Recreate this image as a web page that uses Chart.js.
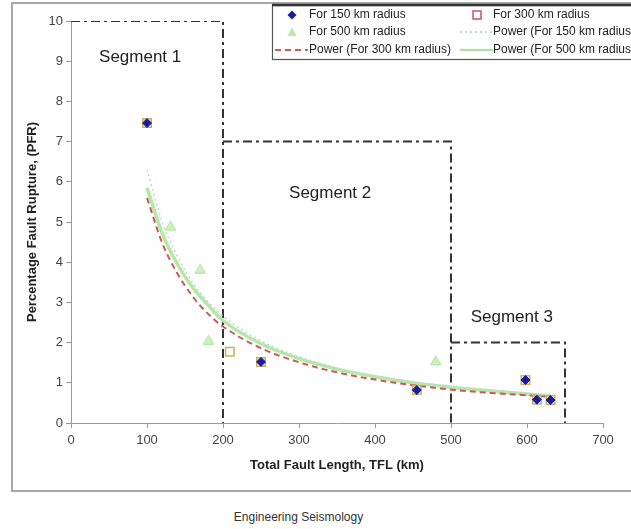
<!DOCTYPE html>
<html>
<head>
<meta charset="utf-8">
<script src="https://cdn.jsdelivr.net/npm/chart.js@4.4.1/dist/chart.umd.min.js"></script>
<style>
  body { margin:0; background:#fff; width:631px; height:529px; overflow:hidden; position:relative; font-family: Arial, "Liberation Sans", sans-serif; }
  #frame { position:absolute; left:11px; top:2px; width:640px; height:486px; border:2px solid #a8a8a8; border-right:none; }
  #c { position:absolute; left:0; top:0; }
  #caption { position:absolute; left:0; width:597px; top:510px; text-align:center; font-size:12px; color:#333; }
</style>
</head>
<body>
<div id="frame"></div>
<canvas id="c" width="631" height="500"></canvas>
<div id="caption">Engineering Seismology</div>
<script>
  // observed points
  const r150X = [100, 250, 455, 598, 613, 631]
  const r150Y = [7.46, 1.52, 0.82, 1.07, 0.58, 0.57]
  const r300X = [100, 209, 250, 455, 598, 613, 631]
  const r300Y = [7.46, 1.77, 1.52, 0.82, 1.07, 0.58, 0.57]
  const r500X = [131, 170, 181, 480]
  const r500Y = [4.87, 3.8, 2.03, 1.52]

  // power trend lines
  const curveX = [100, 120, 140, 160, 180, 200, 250, 300, 350, 400, 450, 500, 550, 600, 630]
  const pow150Y = [6.3, 5.0, 4.15, 3.5, 3.03, 2.66, 2.04, 1.65, 1.37, 1.17, 1.02, 0.9, 0.8, 0.72, 0.68]
  const pow300Y = [5.6, 4.48, 3.72, 3.15, 2.72, 2.4, 1.86, 1.51, 1.26, 1.08, 0.94, 0.83, 0.75, 0.69, 0.65]
  const pow500Y = [5.85, 4.72, 3.95, 3.37, 2.94, 2.55, 1.97, 1.6, 1.34, 1.15, 1.0, 0.89, 0.8, 0.72, 0.68]

  // segment boxes and their labels
  const segX = [[0, 200, 200], [200, 500, 500], [500, 650, 650]]
  const segY = [[10, 10, 0], [7, 7, 0], [2, 2, 0]]
  const segLabels = ['Segment 1', 'Segment 2', 'Segment 3']
  const segLabelX = [91, 341, 580]
  const segLabelY = [9.1, 5.72, 2.64]

  const xTicks = [0, 100, 200, 300, 400, 500, 600, 700]
  const yTicks = [0, 1, 2, 3, 4, 5, 6, 7, 8, 9, 10]

  const FONT = 'Arial, "Liberation Sans", sans-serif'

  function pts(xs, ys){
    return xs.map((x, i) => ({x: x, y: ys[i]}))
  }

  const segSets = segX.map((xs, i) => ({
    label: segLabels[i] + ' box',
    data: pts(xs, segY[i]),
    showLine: true,
    borderColor: '#333',
    borderWidth: 2,
    borderDash: [9, 4, 3, 4],
    pointRadius: 0,
    fill: false
  }))

  // draws the segment names
  const segText = {
    id: 'segText',
    afterDatasetsDraw(chart){
      const ctx = chart.ctx
      const xs = chart.scales.x, ys = chart.scales.y
      ctx.save()
      ctx.font = '17px ' + FONT
      ctx.fillStyle = '#222'
      ctx.textAlign = 'center'
      ctx.textBaseline = 'middle'
      segLabels.forEach((t, i) => {
        ctx.fillText(t, xs.getPixelForValue(segLabelX[i]), ys.getPixelForValue(segLabelY[i]))
      })
      ctx.restore()
    }
  }

  // excel style legend box, two columns
  const legendItems = [
    {text: 'For 150 km radius', kind: 'diamond', color: '#1c1c9a', col: 0, row: 0},
    {text: 'For 300 km radius', kind: 'square', color: '#d05060', col: 1, row: 0},
    {text: 'For 500 km radius', kind: 'triangle', color: '#b8eca8', col: 0, row: 1},
    {text: 'Power (For 150 km radius)', kind: 'line', color: '#c4d4e4', dash: [2, 3], col: 1, row: 1},
    {text: 'Power (For 300 km radius)', kind: 'line', color: '#c85a5a', dash: [6, 4], col: 0, row: 2},
    {text: 'Power (For 500 km radius)', kind: 'line', color: '#a8e498', dash: [], col: 1, row: 2}
  ]
  const legendBox = {
    id: 'legendBox',
    afterDraw(chart){
      const ctx = chart.ctx
      ctx.save()
      ctx.fillStyle = '#fff'
      ctx.fillRect(272, 5, 370, 55)
      ctx.strokeStyle = '#555'
      ctx.lineWidth = 1.2
      ctx.strokeRect(272.5, 5.5, 370, 54)
      ctx.lineWidth = 2.5
      ctx.strokeStyle = '#333'
      ctx.beginPath(); ctx.moveTo(272, 5); ctx.lineTo(631, 5); ctx.stroke()
      ctx.font = '12px ' + FONT
      ctx.textBaseline = 'middle'
      ctx.textAlign = 'left'
      const colX = [292, 477]
      const rowY = [15, 32, 50]
      legendItems.forEach(it => {
        const cx = colX[it.col], cy = rowY[it.row]
        ctx.lineWidth = 1.5
        ctx.setLineDash([])
        if(it.kind == 'diamond'){
          ctx.fillStyle = it.color
          ctx.beginPath(); ctx.moveTo(cx, cy - 4.5); ctx.lineTo(cx + 4.5, cy); ctx.lineTo(cx, cy + 4.5); ctx.lineTo(cx - 4.5, cy); ctx.closePath(); ctx.fill()
        }
        else if(it.kind == 'square'){
          ctx.strokeStyle = it.color
          ctx.strokeRect(cx - 4, cy - 4, 8, 8)
        }
        else if(it.kind == 'triangle'){
          ctx.fillStyle = it.color
          ctx.beginPath(); ctx.moveTo(cx, cy - 5); ctx.lineTo(cx + 4.5, cy + 4); ctx.lineTo(cx - 4.5, cy + 4); ctx.closePath(); ctx.fill()
        }
        else {
          ctx.strokeStyle = it.color
          ctx.lineWidth = 2
          ctx.setLineDash(it.dash)
          ctx.beginPath(); ctx.moveTo(cx - 17, cy); ctx.lineTo(cx + 16, cy); ctx.stroke()
        }
        ctx.setLineDash([])
        ctx.fillStyle = '#222'
        ctx.fillText(it.text, it.col == 0 ? 309 : 493, cy)
      })
      ctx.restore()
    }
  }

  new Chart(document.getElementById('c'), {
    type: 'scatter',
    data: {
      datasets: [
        {label: 'For 150 km radius', data: pts(r150X, r150Y), pointStyle: 'rectRot', pointRadius: 4.5, backgroundColor: '#1c1c9a', borderColor: '#1c1c9a', borderWidth: 1},
        {label: 'For 300 km radius', data: pts(r300X, r300Y), pointStyle: 'rect', pointRadius: 6, backgroundColor: 'rgba(255,255,255,0.3)', borderColor: '#c8b060', borderWidth: 1.5},
        {label: 'For 500 km radius', data: pts(r500X, r500Y), pointStyle: 'triangle', pointRadius: 6, backgroundColor: '#ccf2bf', borderColor: '#b0e49e', borderWidth: 1},
        {label: 'Power (For 300 km radius)', data: pts(curveX, pow300Y), showLine: true, pointRadius: 0, borderColor: '#c85a5a', borderWidth: 2, borderDash: [6, 4], cubicInterpolationMode: 'monotone'},
        {label: 'Power (For 150 km radius)', data: pts(curveX, pow150Y), showLine: true, pointRadius: 0, borderColor: '#c4d4e4', borderWidth: 1.5, borderDash: [2, 3], cubicInterpolationMode: 'monotone'},
        {label: 'Power (For 500 km radius)', data: pts(curveX, pow500Y), showLine: true, pointRadius: 0, borderColor: '#b4e8a4', borderWidth: 3.5, cubicInterpolationMode: 'monotone'},
        ...segSets
      ]
    },
    options: {
      responsive: false,
      animation: false,
      events: [],
      layout: {padding: {left: 20, right: 28, top: 21, bottom: 27}},
      plugins: {legend: {display: false}, tooltip: {enabled: false}},
      scales: {
        x: {
          type: 'linear', min: 0, max: 700,
          afterBuildTicks: s => { s.ticks = xTicks.map(v => ({value: v})) },
          afterFit: s => { s.height = 50 },
          ticks: {color: '#444', font: {size: 13, family: FONT}, padding: 5, maxRotation: 0},
          grid: {drawOnChartArea: false, tickLength: 5, color: '#999'},
          border: {color: '#999'},
          title: {display: true, text: 'Total Fault Length, TFL (km)', color: '#222', font: {size: 13, weight: 'bold', family: FONT}, padding: {top: 0, bottom: 0}}
        },
        y: {
          min: 0, max: 10,
          afterBuildTicks: s => { s.ticks = yTicks.map(v => ({value: v})) },
          afterFit: s => { s.width = 51 },
          ticks: {color: '#444', font: {size: 13, family: FONT}, padding: 3},
          grid: {drawOnChartArea: false, tickLength: 5, color: '#999'},
          border: {color: '#999'},
          title: {display: true, text: 'Percentage Fault Rupture, (PFR)', color: '#222', font: {size: 13, weight: 'bold', family: FONT}, padding: {top: 5, bottom: 0}}
        }
      }
    },
    plugins: [segText, legendBox]
  })
</script>
</body>
</html>
